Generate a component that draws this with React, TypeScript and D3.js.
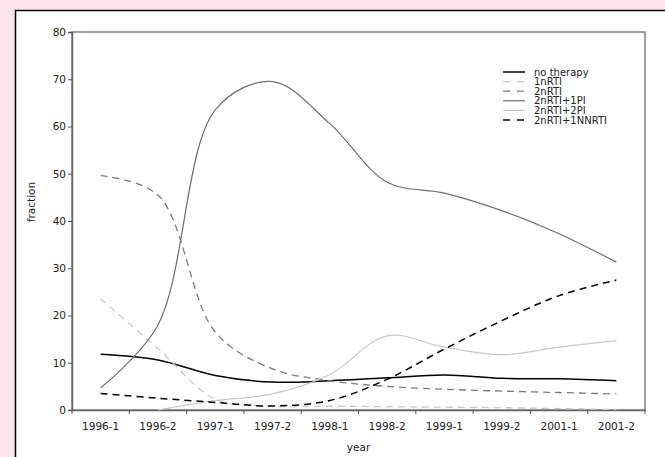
import { useEffect, useRef } from "react";
import * as d3 from "d3";

// categories on the x axis
const YEARS = [
  "1996-1",
  "1996-2",
  "1997-1",
  "1997-2",
  "1998-1",
  "1998-2",
  "1999-1",
  "1999-2",
  "2001-1",
  "2001-2",
];

const Y_TICKS = [0, 10, 20, 30, 40, 50, 60, 70, 80];

// series values (fraction, %)
const noTherapy = [11.8, 10.6, 7.3, 5.9, 6.2, 6.8, 7.4, 6.7, 6.6, 6.2];
const oneNRTI = [23.5, 13, 2.3, 0.8, 0.8, 0.7, 0.6, 0.5, 0.3, 0.1];
const twoNRTI = [49.6, 45.5, 16.5, 8.7, 6.2, 5.0, 4.4, 4.0, 3.7, 3.4];
const twoNRTIonePI = [4.7, 18, 63.5, 69.5, 60.6, 48.2, 45.9, 42.2, 37.3, 31.3];
const twoNRTItwoPI = [null, 0, 2.0, 3.4, 7.5, 15.7, 13.3, 11.7, 13.3, 14.7];
const twoNRTIoneNNRTI = [3.5, 2.5, 1.6, 0.85, 2.0, 6.5, 12.9, 18.9, 24.2, 27.5];

type Series = {
  name: string;
  values: (number | null)[];
  color: string;
  width: number;
  dash: string | null;
};

const SERIES: Series[] = [
  { name: "no therapy", values: noTherapy, color: "#000000", width: 1.5, dash: null },
  { name: "1nRTI", values: oneNRTI, color: "#c8c8c8", width: 1.3, dash: "7,5" },
  { name: "2nRTI", values: twoNRTI, color: "#7a7a7a", width: 1.3, dash: "7,5" },
  { name: "2nRTI+1PI", values: twoNRTIonePI, color: "#6e6e6e", width: 1.2, dash: null },
  { name: "2nRTI+2PI", values: twoNRTItwoPI, color: "#c8c8c8", width: 1.2, dash: null },
  { name: "2nRTI+1NNRTI", values: twoNRTIoneNNRTI, color: "#000000", width: 1.5, dash: "7,5" },
];

const FONT = "'DejaVu Sans', sans-serif";
const FONT_SIZE = "10.5px";

export default function App() {
  const ref = useRef<SVGSVGElement>(null);

  useEffect(() => {
    if (!ref.current) return;
    const svg = d3.select(ref.current);
    svg.selectAll("*").remove();

    const W = 665;
    const H = 457;
    const margin = { top: 32, right: 20, bottom: 47, left: 72 };

    // background + white panel
    svg.append("rect").attr("width", W).attr("height", H).attr("fill", "#fce4ec");
    svg
      .append("rect")
      .attr("x", 15.5)
      .attr("y", 10.5)
      .attr("width", W + 20)
      .attr("height", H + 20)
      .attr("fill", "#ffffff")
      .attr("stroke", "#000")
      .attr("stroke-width", 1.5);

    const x = d3
      .scaleBand<string>()
      .domain(YEARS)
      .range([margin.left, W - margin.right]);

    const y = d3
      .scaleLinear()
      .domain([0, 80])
      .range([H - margin.bottom, margin.top]);

    const cx = (i: number) => (x(YEARS[i]) ?? 0) + x.bandwidth() / 2;

    // plot frame
    svg
      .append("rect")
      .attr("x", margin.left)
      .attr("y", margin.top)
      .attr("width", W - margin.right - margin.left)
      .attr("height", H - margin.bottom - margin.top)
      .attr("fill", "none")
      .attr("stroke", "#808080")
      .attr("stroke-width", 1.5);

    // left axis
    const yAxis = svg
      .append("g")
      .attr("transform", `translate(${margin.left},0)`)
      .call(d3.axisLeft(y).tickValues(Y_TICKS).tickSize(4).tickPadding(2));
    yAxis.select(".domain").attr("stroke", "#666").attr("stroke-width", 1.5);
    yAxis.selectAll(".tick line").attr("stroke", "#555");
    yAxis
      .selectAll(".tick text")
      .attr("fill", "#222")
      .style("font-family", FONT)
      .style("font-size", FONT_SIZE);

    // bottom axis: labels at band centres, tick marks at band edges
    const xAxis = svg
      .append("g")
      .attr("transform", `translate(0,${H - margin.bottom})`)
      .call(d3.axisBottom(x).tickSize(0).tickPadding(13));
    xAxis.select(".domain").attr("stroke", "#666").attr("stroke-width", 1.5);
    xAxis
      .selectAll(".tick text")
      .attr("fill", "#222")
      .style("font-family", FONT)
      .style("font-size", FONT_SIZE);

    const edges = [...YEARS.map((c) => x(c) ?? 0), x.range()[1]];
    xAxis
      .selectAll("line.edge")
      .data(edges)
      .join("line")
      .attr("class", "edge")
      .attr("x1", (d) => d)
      .attr("x2", (d) => d)
      .attr("y1", 0)
      .attr("y2", 4)
      .attr("stroke", "#555");

    // axis titles
    svg
      .append("text")
      .attr("x", (margin.left + W - margin.right) / 2)
      .attr("y", 451)
      .attr("text-anchor", "middle")
      .style("font-family", FONT)
      .style("font-size", FONT_SIZE)
      .attr("fill", "#222")
      .text("year");

    svg
      .append("text")
      .attr("transform", `translate(35,202) rotate(-90)`)
      .attr("text-anchor", "middle")
      .style("font-family", FONT)
      .style("font-size", FONT_SIZE)
      .attr("fill", "#222")
      .text("fraction");

    // lines
    const line = d3
      .line<number | null>()
      .defined((d) => d !== null)
      .x((_, i) => cx(i))
      .y((d) => y(d as number))
      .curve(d3.curveCatmullRom.alpha(0.5));

    SERIES.forEach((s) => {
      svg
        .append("path")
        .datum(s.values)
        .attr("fill", "none")
        .attr("stroke", s.color)
        .attr("stroke-width", s.width)
        .attr("stroke-dasharray", s.dash)
        .attr("d", line);
    });

    // legend
    const legend = svg.append("g").attr("transform", "translate(503,72)");
    SERIES.forEach((s, i) => {
      const row = legend.append("g").attr("transform", `translate(0,${i * 9.6})`);
      row
        .append("line")
        .attr("x1", 0)
        .attr("x2", 22)
        .attr("y1", 0)
        .attr("y2", 0)
        .attr("stroke", s.color)
        .attr("stroke-width", s.width)
        .attr("stroke-dasharray", s.dash ? "7,7" : null);
      row
        .append("text")
        .attr("x", 31)
        .attr("y", 3.5)
        .style("font-family", FONT)
        .style("font-size", "10px")
        .attr("fill", "#222")
        .text(s.name);
    });
  }, []);

  return (
    <svg
      ref={ref}
      width={665}
      height={457}
      style={{ position: "absolute", left: 0, top: 0, display: "block" }}
    />
  );
}
